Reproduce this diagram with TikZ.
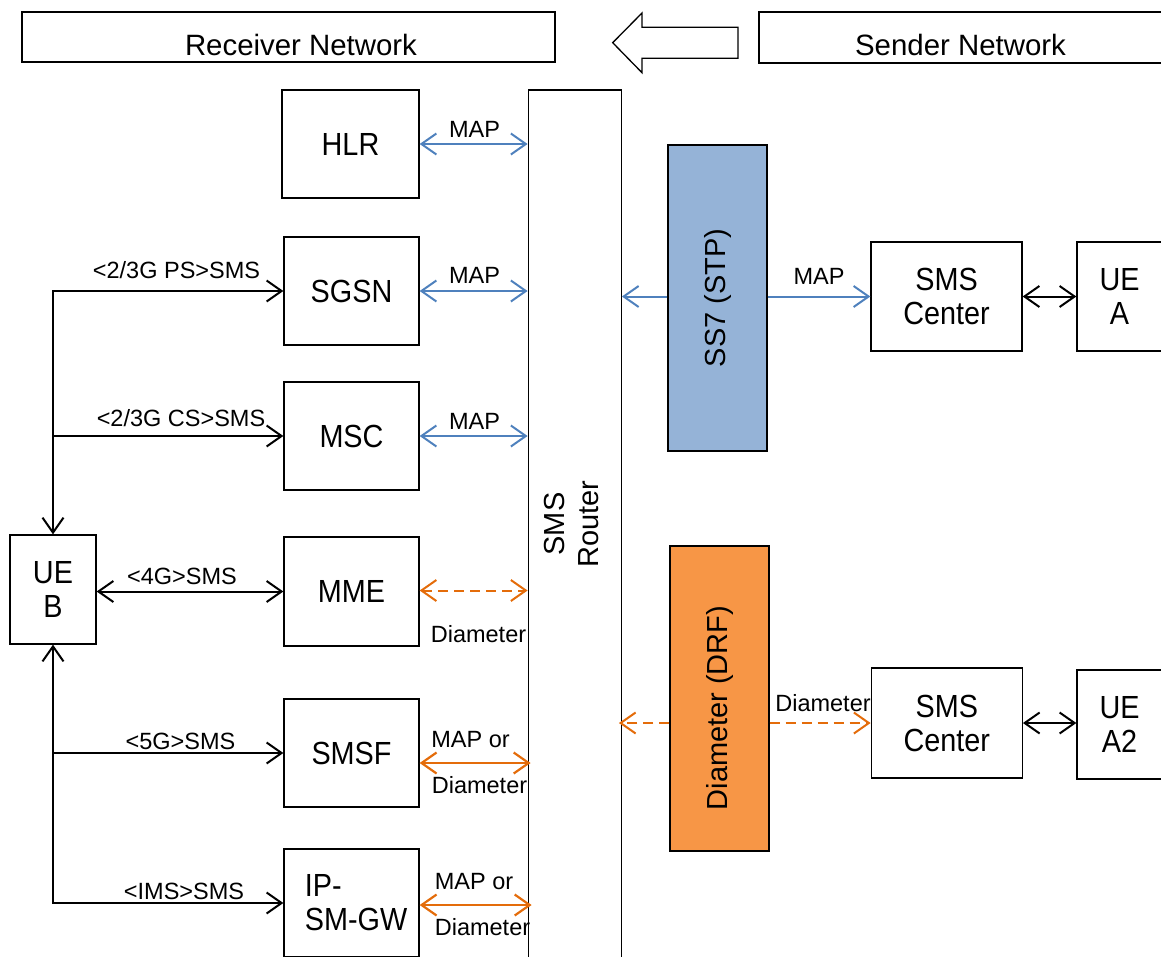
\documentclass[tikz,border=0pt]{standalone}
\usepackage{fontspec}
\setmainfont{Liberation Sans}
\usetikzlibrary{arrows.meta,calc}
\definecolor{lblue}{HTML}{4F81BD}
\definecolor{fblue}{HTML}{95B3D7}
\definecolor{lorange}{HTML}{E46C0A}
\definecolor{forange}{HTML}{F79646}
\begin{document}
\begin{tikzpicture}[x=1pt,y=-1pt,
  >={Straight Barb[length=15pt,width=21pt]},
  box/.style={draw, line width=1.3pt, inner sep=0pt, align=center,
    font=\fontsize{32}{34}\selectfont\addfontfeature{FakeStretch=0.9}},
  rotbox/.style={draw, line width=1.3pt, inner sep=0pt, align=center,
    font=\fontsize{29}{34}\selectfont},
  titlebox/.style={draw, line width=1.3pt, inner sep=0pt,
    text height=36pt, text depth=0pt, font=\fontsize{29.4}{32}\selectfont},
  lbl/.style={inner sep=0pt, font=\fontsize{23.5}{27}\selectfont},
  conn/.style={line width=2pt, black},
  blueconn/.style={line width=2pt, lblue},
  orconn/.style={line width=2.2pt, lorange},
  ordashed/.style={line width=2pt, lorange, dash pattern=on 10pt off 6pt}
]
\useasboundingbox (0,0) rectangle (1161,956);
\clip (0,0) rectangle (1161,956);

% header
\node[titlebox, minimum width=533pt, minimum height=50pt] (recv) at (288.5,37) {\hspace*{25pt}Receiver Network};
\node[titlebox, minimum width=403pt, minimum height=51pt] (send) at (960.5,37.5) {Sender Network};
\draw[line width=1.3pt, line join=miter] (612.7,42.7) -- (642,13) -- (642,27.3) -- (738,27.3) -- (738,58.3) -- (642,58.3) -- (642,72.7) -- cycle;

% receiver side boxes
\node[box, minimum width=137pt, minimum height=108pt] (hlr) at (350.5,144) {HLR};
\node[box, minimum width=135pt, minimum height=108pt] (sgsn) at (351.5,291) {SGSN};
\node[box, minimum width=135pt, minimum height=108pt] (msc) at (351.5,436) {MSC};
\node[box, minimum width=135pt, minimum height=109pt] (mme) at (351.5,591.5) {MME};
\node[box, minimum width=135pt, minimum height=108pt] (smsf) at (351.5,753) {SMSF};
\node[box, minimum width=135pt, minimum height=108pt, align=left] (ipsm) at (351.5,903) {\hspace*{9pt}IP-\\\hspace*{9pt}SM-GW};
\node[box, minimum width=86pt, minimum height=109pt] (ueb) at (53,589.5) {UE\\B};

% router
\node[rotbox, minimum width=93pt, minimum height=868pt] (router) at (574.75,524)
  {\rotatebox{90}{\begin{tabular}{@{}c@{}}SMS\\Router\end{tabular}}};

% sender side
\node[rotbox, fill=fblue, minimum width=99pt, minimum height=306pt] (stp) at (717.5,298) {\rotatebox{90}{SS7 (STP)}};
\node[rotbox, fill=forange, minimum width=99pt, minimum height=305pt] (drf) at (719.5,698.5) {\rotatebox{90}{Diameter (DRF)\hspace*{19pt}}};
\node[box, minimum width=151pt, minimum height=109pt] (smsc1) at (946.5,296.5) {SMS\\Center};
\node[box, minimum width=85pt, minimum height=109pt] (uea) at (1119.5,296.5) {UE\\A};
\node[box, minimum width=151pt, minimum height=110pt] (smsc2) at (946.75,723) {SMS\\Center};
\node[box, minimum width=85pt, minimum height=109pt] (uea2) at (1119.5,724.5) {UE\\A2};

% receiver interfaces
\draw[blueconn,<->] (hlr.east) -- (hlr.east -| router.west);
\node[lbl] (l1) at (474.5,129) {MAP};
\draw[blueconn,<->] (sgsn.east) -- (sgsn.east -| router.west);
\node[lbl] (l2) at (474.5,275) {MAP};
\draw[blueconn,<->] (msc.east) -- (msc.east -| router.west);
\node[lbl] (l3) at (474.5,421) {MAP};
\draw[ordashed,<->] ($(mme.east)+(0,-1)$) -- ($(mme.east -| router.west)+(0,-1)$);
\node[lbl] (l4) at (478.5,634) {Diameter};
\draw[orconn,<->] ($(smsf.east)+(0,10)$) -- ($(smsf.east -| router.west)+(3,10)$);
\node[lbl] (l5) at (470.5,740) {MAP or};
\node[lbl] (l6) at (479.5,785) {Diameter};
\draw[orconn,<->] ($(ipsm.east)+(0,2)$) -- ($(ipsm.east -| router.west)+(4,2)$);
\node[lbl] (l7) at (474,882) {MAP or};
\node[lbl] (l8) at (482.5,927) {Diameter};

% UE B tree
\coordinate (j1) at (ueb.north |- sgsn.west);
\coordinate (j2) at (ueb.north |- msc.west);
\coordinate (j3) at (ueb.south |- ipsm.west);
\coordinate (j4) at (ueb.south |- smsf.west);
\draw[conn,<->] (ueb.north) -- (j1) -- (sgsn.west);
\draw[conn,->] (j2) -- (msc.west);
\draw[conn,<->] (ueb.south) -- (j3) -- (ipsm.west);
\draw[conn,->] (j4) -- (smsf.west);
\draw[conn,<->] (ueb.east |- mme.west) -- (mme.west);
\node[lbl] (t1) at (176.5,270.5) {<2/3G PS>SMS};
\node[lbl] (t2) at (181,418.5) {<2/3G CS>SMS};
\node[lbl] (t3) at (182,576.5) {<4G>SMS};
\node[lbl] (t4) at (180.5,741) {<5G>SMS};
\node[lbl] (t5) at (184,891) {<IMS>SMS};

% sender interfaces
\draw[blueconn,->] (stp.west |- smsc1.west) -- (router.east |- smsc1.west);
\draw[blueconn,->] (stp.east |- smsc1.west) -- (smsc1.west);
\node[lbl] (s1) at (819,276) {MAP};
\draw[conn,<->] (smsc1.east) -- (uea.west |- smsc1.east);
\draw[ordashed,->] (drf.west |- smsc2.west) -- ($(router.east |- smsc2.west)+(-3,0)$);
\draw[ordashed,->] (drf.east |- smsc2.west) -- (smsc2.west);
\node[lbl] (s2) at (823,703.5) {Diameter};
\draw[conn,<->] (smsc2.east) -- (uea2.west |- smsc2.east);
\end{tikzpicture}
\end{document}
